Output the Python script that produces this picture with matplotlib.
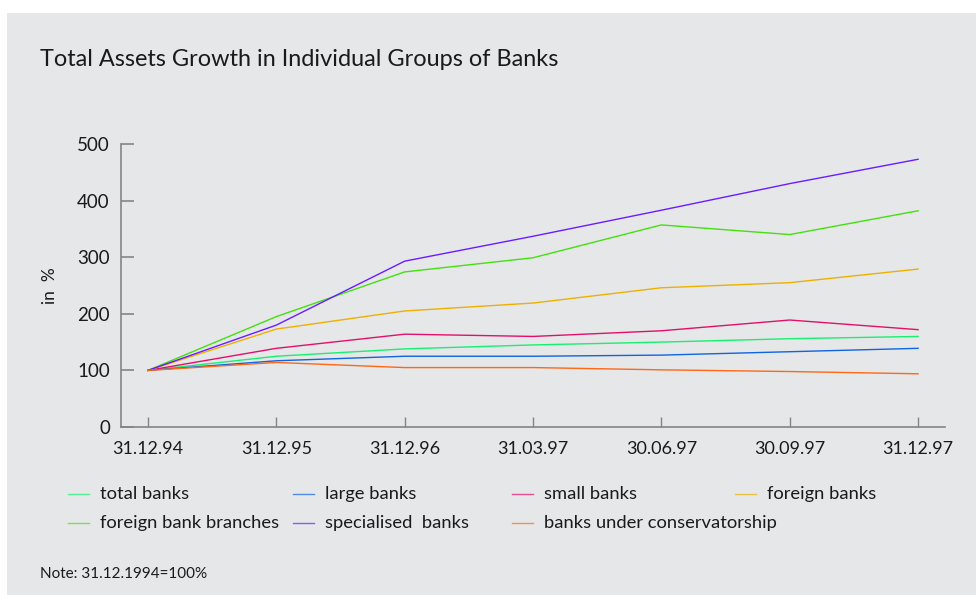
import numpy as np
import matplotlib.pyplot as plt
from matplotlib.lines import Line2D
from matplotlib.patches import Rectangle

plt.rcParams['font.family'] = ['Lato', 'DejaVu Sans']

dates = ['31.12.94', '31.12.95', '31.12.96', '31.03.97', '30.06.97', '30.09.97', '31.12.97']

total_banks = [100, 125, 138, 145, 150, 156, 160]
large_banks = [100, 117, 125, 125, 127, 133, 139]
small_banks = [100, 139, 164, 160, 170, 189, 172]
foreign_banks = [100, 173, 205, 219, 246, 255, 279]
foreign_branches = [100, 195, 274, 299, 357, 340, 382]
specialised_banks = [100, 180, 293, 337, 383, 430, 473]
conservatorship = [100, 114, 105, 105, 101, 98, 94]

series = [
    ('total banks', total_banks, '#19f070'),
    ('large banks', large_banks, '#1064e0'),
    ('small banks', small_banks, '#e2106a'),
    ('foreign banks', foreign_banks, '#eeb000'),
    ('foreign bank branches', foreign_branches, '#44e010'),
    ('specialised  banks', specialised_banks, '#6a1cff'),
    ('banks under conservatorship', conservatorship, '#ff6818'),
]

bg = '#e6e7e9'
fig = plt.figure(figsize=(9.76, 5.95), dpi=100)
fig.patch.set_facecolor('white')
fig.patches.append(Rectangle((7 / 976, 0), 1, 1 - 13 / 595, transform=fig.transFigure,
                             facecolor=bg, edgecolor='none', zorder=-10))

ax = fig.add_axes([121 / 976, 1 - 427 / 595, (945 - 121) / 976, (427 - 144) / 595])
ax.set_facecolor('none')

x = np.arange(len(dates))
for name, vals, col in series:
    ax.plot(x, vals, color=col, lw=1.0)

ax.set_xlim(-0.21, 6.21)
ax.set_ylim(0, 500)
ax.set_yticks([0, 100, 200, 300, 400, 500])
ax.set_xticks(x)
ax.set_xticklabels(dates)
for s in ['top', 'right']:
    ax.spines[s].set_visible(False)
for s in ['left', 'bottom']:
    ax.spines[s].set_color('#858585')
    ax.spines[s].set_linewidth(1.2)
ax.tick_params(axis='y', direction='in', length=9, width=1.2, color='#858585',
               labelsize=13.5, pad=8, labelcolor='#1a1a1a')
ax.tick_params(axis='x', direction='in', length=7, width=1.0, color='#858585',
               labelsize=13, pad=10, labelcolor='#1a1a1a')
ax.set_ylabel('in  %', fontsize=12.5, labelpad=14, color='#1a1a1a')

fig.text(40 / 976, 1 - 60 / 595, 'Total Assets Growth in Individual Groups of Banks',
         fontsize=16.9, va='center', ha='left', color='#1a1a1a')

# legend laid out in two rows, evenly spaced columns
col_x = [68, 293, 512, 735]
row_y = [494, 523]
order = [(0, 0), (1, 0), (2, 0), (3, 0), (0, 1), (1, 1), (2, 1)]
for (name, vals, col), (c, r) in zip(series, order):
    x0 = col_x[c]
    y0 = 1 - row_y[r] / 595
    fig.add_artist(Line2D([x0 / 976, (x0 + 21) / 976], [y0, y0], color=col,
                          lw=1.0, alpha=0.7, transform=fig.transFigure))
    fig.text((x0 + 32) / 976, y0, name, fontsize=13.2, va='center', ha='left',
             color='#1a1a1a')

fig.text(40 / 976, 1 - 574 / 595, 'Note: 31.12.1994=100%', fontsize=11,
         va='center', ha='left', color='#1a1a1a')

fig.savefig('out.png', dpi=100)
